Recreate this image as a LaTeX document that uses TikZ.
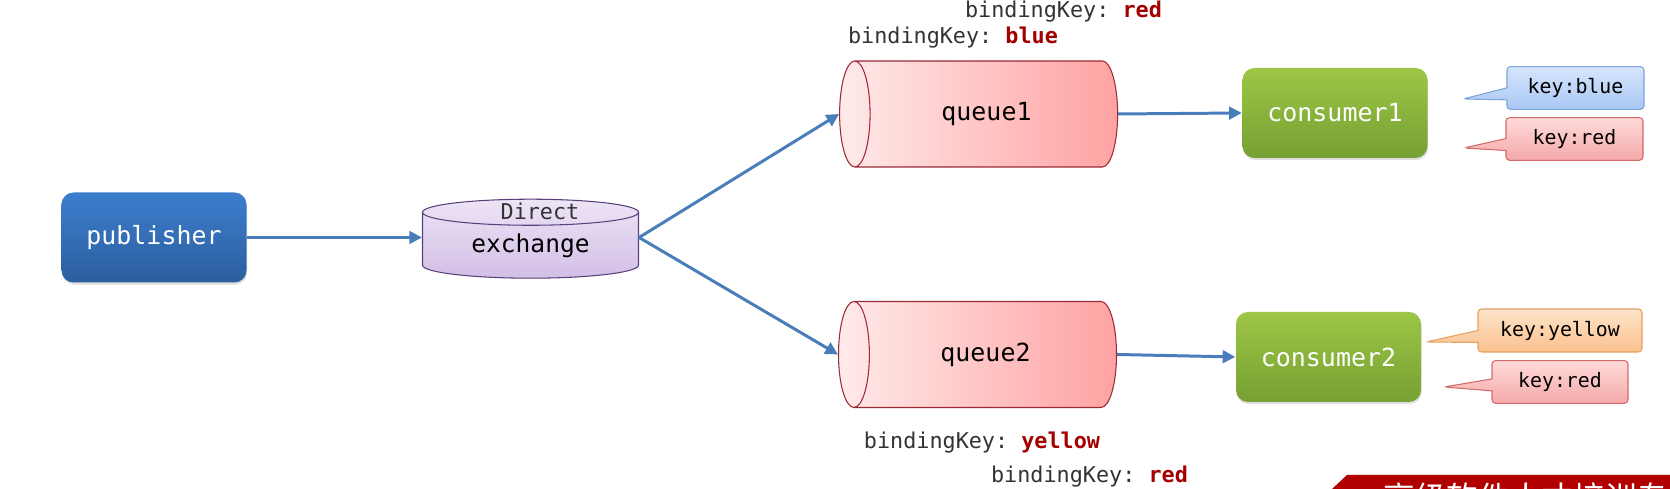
\documentclass[tikz,border=0pt]{standalone}
\usepackage{fontspec}
\setmonofont{DejaVu Sans Mono}
\newfontfamily\cjk{Noto Sans CJK SC}
\usetikzlibrary{shapes.geometric,shapes.callouts,arrows.meta,shadows}

\definecolor{pubtop}{HTML}{3C7ECD}
\definecolor{pubbot}{HTML}{2C5E9E}
\definecolor{contop}{HTML}{9DC646}
\definecolor{conbot}{HTML}{76A032}
\definecolor{linkblue}{HTML}{4A7EBB}
\definecolor{qleft}{HTML}{FFEAEA}
\definecolor{qright}{HTML}{FFA2A2}
\definecolor{qborder}{HTML}{9B2A35}
\definecolor{extop}{HTML}{EDE4F6}
\definecolor{exbot}{HTML}{D2BFE6}
\definecolor{exborder}{HTML}{5B3F7D}
\definecolor{bkgray}{HTML}{333333}
\definecolor{bkred}{HTML}{A50000}
\definecolor{bannerred}{HTML}{B00000}
\definecolor{kbluetop}{HTML}{D6E5FC}
\definecolor{kbluebot}{HTML}{A8C7F3}
\definecolor{kblueline}{HTML}{7BA3DC}
\definecolor{kredtop}{HTML}{FFDADA}
\definecolor{kredbot}{HTML}{F4A9A9}
\definecolor{kredline}{HTML}{D26A6A}
\definecolor{kyeltop}{HTML}{FDE5CB}
\definecolor{kyelbot}{HTML}{FBC08C}
\definecolor{kyelline}{HTML}{E3A263}

\tikzset{
  box/.style={rounded corners=0.12cm, minimum width=1.85cm, minimum height=0.9cm, text=white,
    font=\fontsize{7.1}{8}\selectfont\ttfamily, drop shadow={opacity=0.25, shadow xshift=0.2pt, shadow yshift=-0.6pt}},
  queue/.style={cylinder, shape border rotate=180, aspect=1.3, draw=qborder, line width=0.3pt,
    left color=qleft, right color=qright, minimum width=1.06cm, minimum height=2.78cm, inner sep=0pt,
    font=\fontsize{7.1}{8}\selectfont\ttfamily},
  link/.style={line width=0.85pt, draw=linkblue, -{Triangle[length=3.6pt,width=3.6pt]}},
  keybox/.style={rectangle callout, rounded corners=1pt, line width=0.3pt, minimum height=0.4cm,
    callout pointer width=0.12cm, font=\fontsize{5.65}{7}\selectfont\ttfamily},
  bkey/.style={font=\fontsize{6.2}{7}\selectfont\ttfamily, text=bkgray},
}
\newcommand{\bval}[1]{\textcolor{bkred}{\textbf{#1}}}

\begin{document}
\begin{tikzpicture}
\useasboundingbox (0,0) rectangle (16.7,4.89);

\node [box, top color=pubtop, bottom color=pubbot] (pub) at (1.54,2.515) {publisher};

\node [cylinder, shape border rotate=90, aspect=0.22, draw=exborder, line width=0.3pt, top color=extop, bottom color=exbot,
  minimum width=2.16cm, minimum height=0.79cm, inner sep=0pt, font=\fontsize{7}{8}\selectfont\ttfamily] (ex) at (5.305,2.435) {exchange};
\node [font=\fontsize{6.2}{7}\selectfont\ttfamily, text=bkgray] (exdirect) at (5.40,2.78) {Direct};

\node [queue] (q1) at (9.865,3.75) {queue1};
\node [queue] (q2) at (9.855,1.345) {queue2};

\node [box, top color=contop, bottom color=conbot] (c1) at (13.35,3.76) {consumer1};
\node [box, top color=contop, bottom color=conbot] (c2) at (13.285,1.32) {consumer2};

\draw [link] (pub.east) -- (pub.east -| ex.west);
\draw [link] (ex.east |- pub.east) -- (q1.west);
\draw [link] (ex.east |- pub.east) -- (q2.west);
\draw [link] (q1.east) -- (c1.west);
\draw [link] (q2.east) -- (c2.west);

% routing keys of the consumers
\node [keybox, minimum width=1.37cm, draw=kblueline, top color=kbluetop, bottom color=kbluebot,
  callout absolute pointer={(14.63,3.90)}] (k1) at (15.755,4.01) {key:blue};
\node [keybox, minimum width=1.37cm, minimum height=0.34cm, draw=kredline, top color=kredtop, bottom color=kredbot,
  callout absolute pointer={(14.64,3.41)}] (k2) at (15.745,3.50) {key:red};
\node [keybox, minimum width=1.64cm, minimum height=0.43cm, draw=kyelline, top color=kyeltop, bottom color=kyelbot,
  callout absolute pointer={(14.26,1.47)}] (k3) at (15.60,1.585) {key:yellow};
\node [keybox, minimum width=1.36cm, draw=kredline, top color=kredtop, bottom color=kredbot,
  callout absolute pointer={(14.44,1.02)}] (k4) at (15.60,1.07) {key:red};

% binding keys
\node [bkey] (b1) at (10.635,4.77) {bindingKey: \bval{red}};
\node [bkey] (b2) at (9.53,4.51) {bindingKey: \bval{blue}};
\node [bkey] (b3) at (9.82,0.46) {bindingKey: \bval{yellow}};
\node [bkey] (b4) at (10.895,0.12) {bindingKey: \bval{red}};

\begin{scope}
\clip (0,0) rectangle (16.7,4.89);
\fill [bannerred] (13.32,0) -- (13.47,0.14) -- (16.7,0.14) -- (16.7,0) -- cycle;
\node [anchor=north west, inner sep=0pt, text=white, font=\cjk\fontsize{9}{9}\selectfont] (slogan) at (13.83,0.07) {高级软件人才培训专家};
\end{scope}
\end{tikzpicture}
\end{document}
